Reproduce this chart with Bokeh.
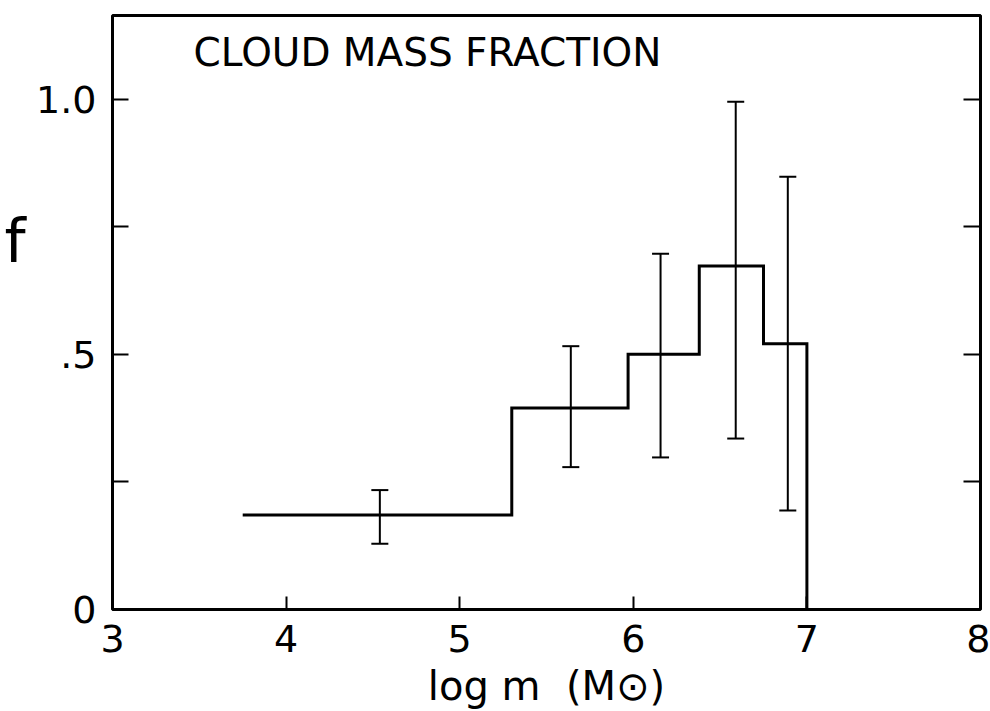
from bokeh.plotting import figure
from bokeh.models import (Range1d, FixedTicker, LinearAxis, Label, Whisker, TeeHead,
                          ColumnDataSource)
from bokeh.embed import file_html
from bokeh.resources import INLINE

# ---- data ----
bin_edges = [3.75, 5.30, 5.97, 6.38, 6.75, 7.00]
bin_values = [0.185, 0.395, 0.500, 0.673, 0.521]

err_x = [4.54, 5.64, 6.157, 6.59, 6.89]
err_upper = [0.234, 0.516, 0.697, 0.995, 0.848]
err_lower = [0.129, 0.279, 0.298, 0.335, 0.194]

x_ticks = [3, 4, 5, 6, 7, 8]
x_tick_labels = ["3", "4", "5", "6", "7", "8"]
y_ticks = [0, 0.25, 0.5, 0.75, 1.0]
y_tick_labels = ["0", "", ".5", "", "1.0"]

title_text = "CLOUD MASS FRACTION"
x_label = "log m\u00a0\u00a0(M\u2299)"
y_label = "f"
y_label_pos = 0.722

FONT = "DejaVu Sans"

p = figure(width=990, height=711, output_backend="svg", toolbar_location=None,
           x_range=Range1d(3, 8), y_range=Range1d(0, 1.164),
           min_border_left=112, min_border_right=10, min_border_top=15,
           min_border_bottom=100)
p.background_fill_color = "white"
p.border_fill_color = "white"
p.outline_line_color = "black"
p.outline_line_width = 3
p.xgrid.visible = False
p.ygrid.visible = False

# bottom axis
xa = p.xaxis[0]
xa.ticker = FixedTicker(ticks=x_ticks)
xa.major_label_overrides = {t: s for t, s in zip(x_ticks, x_tick_labels)}
xa.axis_line_color = None
xa.major_tick_in = 13
xa.major_tick_out = 0
xa.major_tick_line_width = 2
xa.major_tick_line_color = "black"
xa.minor_tick_line_color = None
xa.major_label_text_font = FONT
xa.major_label_text_font_size = "38px"
xa.major_label_text_color = "black"
xa.major_label_standoff = 15
xa.axis_label = x_label
xa.axis_label_text_font = FONT
xa.axis_label_text_font_size = "40px"
xa.axis_label_text_font_style = "normal"
xa.axis_label_text_color = "black"
xa.axis_label_standoff = 8

# left axis
ya = p.yaxis[0]
ya.ticker = FixedTicker(ticks=y_ticks)
ya.major_label_overrides = {t: s for t, s in zip(y_ticks, y_tick_labels)}
ya.axis_line_color = None
ya.major_tick_in = 16
ya.major_tick_out = 0
ya.major_tick_line_width = 2
ya.major_tick_line_color = "black"
ya.minor_tick_line_color = None
ya.major_label_text_font = FONT
ya.major_label_text_font_size = "38px"
ya.major_label_text_color = "black"
ya.major_label_standoff = 16

# outer left axis carrying only the "f" label at its place
fa = LinearAxis(ticker=FixedTicker(ticks=[y_label_pos]))
fa.major_label_overrides = {y_label_pos: y_label}
fa.axis_line_color = None
fa.major_tick_line_color = None
fa.major_tick_in = 0
fa.major_tick_out = 0
fa.minor_tick_line_color = None
fa.major_label_text_font = FONT
fa.major_label_text_font_size = "60px"
fa.major_label_text_color = "black"
fa.major_label_standoff = 8
p.add_layout(fa, "left")

# right axis: ticks only
ra = LinearAxis(ticker=FixedTicker(ticks=y_ticks[1:]))
ra.axis_line_color = None
ra.major_tick_in = 17
ra.major_tick_out = 0
ra.major_tick_line_width = 2
ra.major_tick_line_color = "black"
ra.minor_tick_line_color = None
ra.major_label_overrides = {t: "" for t in y_ticks[1:]}
ra.major_label_text_font_size = "10px"
ra.major_label_standoff = 0
p.add_layout(ra, "right")

# histogram step line
hx, hy = [], []
for i, v in enumerate(bin_values):
    hx += [bin_edges[i], bin_edges[i + 1]]
    hy += [v, v]
hx.append(bin_edges[-1])
hy.append(0)
p.line(hx, hy, line_color="black", line_width=3, line_join="miter")

# error bars
src = ColumnDataSource(dict(x=err_x, upper=err_upper, lower=err_lower))
wh = Whisker(source=src, base="x", upper="upper", lower="lower", dimension="height",
             line_color="black", line_width=2,
             upper_head=TeeHead(size=17, line_width=2, line_color="black"),
             lower_head=TeeHead(size=17, line_width=2, line_color="black"))
p.add_layout(wh)

# title inside the frame
p.add_layout(Label(x=3.467, y=1.092, text=title_text, text_font=FONT,
                   text_font_size="39px", text_color="black",
                   text_align="left", text_baseline="alphabetic"))

open("out.html", "w").write(file_html(p, INLINE))
